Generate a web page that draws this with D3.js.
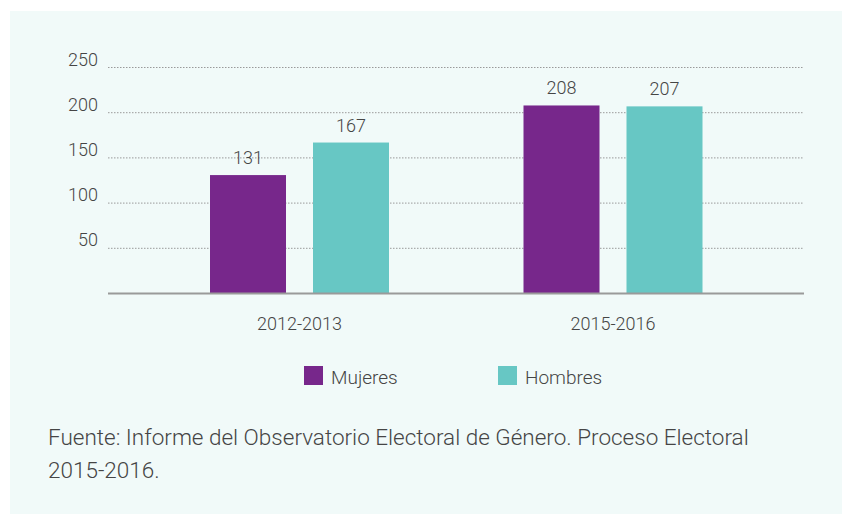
<!DOCTYPE html>
<html>
<head>
<meta charset="utf-8">
<script src="https://cdn.jsdelivr.net/npm/d3@7"></script>
<style>
  body { margin: 0; background: #fff; }
  svg text { font-family: Roboto, "Noto Sans", sans-serif; font-weight: 300; fill: #454545; }
</style>
</head>
<body>
<div id="chart"></div>
<script>
const periods = ["2012-2013", "2015-2016"];
const seriesNames = ["Mujeres", "Hombres"];
const mujeres = [131, 208];
const hombres = [167, 207];
const yTicks = [50, 100, 150, 200, 250];
const colors = ["#77278b", "#67c7c4"];
const source = ["Fuente: Informe del Observatorio Electoral de Género. Proceso Electoral", "2015-2016."];

const W = 854, H = 514;
const svg = d3.select("#chart").append("svg")
    .attr("width", W)
    .attr("height", H);

// panel background
svg.append("rect")
    .attr("x", 10).attr("y", 11)
    .attr("width", 832).attr("height", 503)
    .attr("fill", "#f1faf9");

const plotLeft = 108, plotRight = 804, plotTop = 67.5, plotBottom = 293.5;

const y = d3.scaleLinear().domain([0, 250]).range([plotBottom, plotTop]);

const x0 = d3.scaleBand().domain(periods).range([142.75, 769.75]).padding(0);
const x1 = d3.scaleBand().domain(seriesNames).range([-89.5, 89.5]).paddingInner(27 / 103).paddingOuter(0);

// gridlines
svg.append("g")
    .selectAll("line")
    .data(yTicks)
    .join("line")
    .attr("x1", plotLeft).attr("x2", plotRight)
    .attr("y1", d => y(d)).attr("y2", d => y(d))
    .attr("stroke", "#9a9a9a")
    .attr("stroke-width", 1)
    .attr("stroke-dasharray", "1.5,1.5");

// y labels
svg.append("g")
    .selectAll("text")
    .data(yTicks)
    .join("text")
    .attr("x", 98)
    .attr("y", d => y(d) - 2)
    .attr("text-anchor", "end")
    .style("font-size", "18px")
    .text(d => d);

// bars
const rows = periods.map((p, i) => ({ period: p, values: [mujeres[i], hombres[i]] }));

const groups = svg.append("g")
    .selectAll("g")
    .data(rows)
    .join("g")
    .attr("transform", d => `translate(${x0(d.period) + x0.bandwidth() / 2},0)`);

groups.selectAll("rect")
    .data(d => d.values.map((v, j) => ({ key: seriesNames[j], value: v, j })))
    .join("rect")
    .attr("x", d => x1(d.key))
    .attr("y", d => y(d.value))
    .attr("width", x1.bandwidth())
    .attr("height", d => plotBottom - y(d.value))
    .attr("fill", d => colors[d.j]);

groups.selectAll("text.val")
    .data(d => d.values.map((v, j) => ({ key: seriesNames[j], value: v })))
    .join("text")
    .attr("class", "val")
    .attr("x", d => x1(d.key) + x1.bandwidth() / 2)
    .attr("y", d => y(d.value) - 11)
    .attr("text-anchor", "middle")
    .style("font-size", "18px")
    .text(d => d.value);

// baseline
svg.append("line")
    .attr("x1", plotLeft).attr("x2", plotRight)
    .attr("y1", plotBottom).attr("y2", plotBottom)
    .attr("stroke", "#9a9a9a")
    .attr("stroke-width", 2);

// category labels
svg.append("g")
    .selectAll("text")
    .data(periods)
    .join("text")
    .attr("x", d => x0(d) + x0.bandwidth() / 2)
    .attr("y", 330)
    .attr("text-anchor", "middle")
    .style("font-size", "18px")
    .text(d => d);

// legend
const legendX = [304, 498];
const legend = svg.append("g")
    .selectAll("g")
    .data(seriesNames)
    .join("g")
    .attr("transform", (d, i) => `translate(${legendX[i]},366)`);

legend.append("rect")
    .attr("width", 19).attr("height", 19)
    .attr("fill", (d, i) => colors[i]);

legend.append("text")
    .attr("x", 27)
    .attr("y", 18)
    .style("font-size", "19px")
    .text(d => d);

// source note
svg.append("g")
    .selectAll("text")
    .data(source)
    .join("text")
    .attr("x", 48)
    .attr("y", (d, i) => 445 + i * 33)
    .style("font-size", "22.5px")
    .text(d => d);
</script>
</body>
</html>
